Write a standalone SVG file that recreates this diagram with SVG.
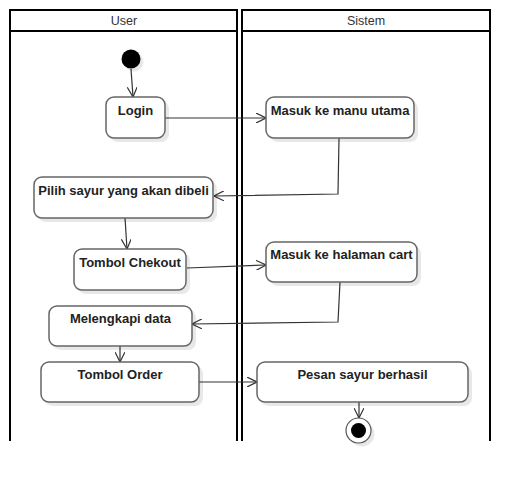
<svg xmlns="http://www.w3.org/2000/svg" width="530" height="483" viewBox="0 0 530 483">
<defs>
<style>
.lane{fill:none;stroke:#000;stroke-width:2}
.hdr{font-family:"Liberation Sans",Arial,sans-serif;font-size:12.5px;fill:#333;text-anchor:middle}
.box{fill:#fff;stroke:#666;stroke-width:1.5}
.sh{fill:#000;opacity:0.09}
.lbl{font-family:"Liberation Sans",Arial,sans-serif;font-size:13px;font-weight:bold;fill:#222;text-anchor:middle}
.con{fill:none;stroke:#333;stroke-width:1.2}
</style>
<marker id="arr" viewBox="0 0 10 10" refX="10" refY="5" markerWidth="10" markerHeight="10" markerUnits="userSpaceOnUse" orient="auto">
<path d="M0,0 L10,5 L0,10" fill="none" stroke="#333" stroke-width="1.2"/>
</marker>
</defs>
<rect width="530" height="483" fill="#fff"/>
<g id="lane-user">
<path class="lane" d="M10,441 V10 H237 V441 M10,31 H237"/>
<text class="hdr" x="124" y="25">User</text>
</g>
<g id="lane-sistem">
<path class="lane" d="M242,441 V10 H490 V441 M242,31 H490"/>
<text class="hdr" x="366" y="25">Sistem</text>
</g>
<g id="connectors">
<path class="con" marker-end="url(#arr)" d="M131,69 L133,97"/>
<path class="con" marker-end="url(#arr)" d="M165,118 H266"/>
<path class="con" marker-end="url(#arr)" d="M339,138 L338,194 L214,196"/>
<path class="con" marker-end="url(#arr)" d="M125,218 L127,249"/>
<path class="con" marker-end="url(#arr)" d="M187,268 L266,265"/>
<path class="con" marker-end="url(#arr)" d="M340,282 L338,322 L192,324"/>
<path class="con" marker-end="url(#arr)" d="M120,346 V362"/>
<path class="con" marker-end="url(#arr)" d="M199,382 H257"/>
<path class="con" marker-end="url(#arr)" d="M359,402 V418"/>
</g>
<g id="start">
<circle class="sh" cx="134" cy="62" r="9.5"/>
<circle cx="131" cy="59" r="9.5" fill="#000"/>
</g>
<g id="login">
<rect class="sh" x="110" y="101" width="59" height="41" rx="8"/>
<rect class="box" x="106" y="97" width="59" height="41" rx="8"/>
<text class="lbl" x="135.5" y="115">Login</text>
</g>
<g id="masuk-menu">
<rect class="sh" x="270" y="101" width="148" height="41" rx="8"/>
<rect class="box" x="266" y="97" width="148" height="41" rx="8"/>
<text class="lbl" x="340" y="115">Masuk ke manu utama</text>
</g>
<g id="pilih">
<rect class="sh" x="38" y="181" width="179" height="41" rx="8"/>
<rect class="box" x="34" y="177" width="179" height="41" rx="8"/>
<text class="lbl" x="123.5" y="195">Pilih sayur yang akan dibeli</text>
</g>
<g id="chekout">
<rect class="sh" x="78" y="253" width="112" height="41" rx="8"/>
<rect class="box" x="74" y="249" width="112" height="41" rx="8"/>
<text class="lbl" x="130" y="267">Tombol Chekout</text>
</g>
<g id="cart">
<rect class="sh" x="270" y="246" width="151" height="40" rx="8"/>
<rect class="box" x="266" y="242" width="151" height="40" rx="8"/>
<text class="lbl" x="341.5" y="259">Masuk ke halaman cart</text>
</g>
<g id="melengkapi">
<rect class="sh" x="53" y="310" width="143" height="40" rx="8"/>
<rect class="box" x="49" y="306" width="143" height="40" rx="8"/>
<text class="lbl" x="120.5" y="323">Melengkapi data</text>
</g>
<g id="order">
<rect class="sh" x="45" y="366" width="158" height="40" rx="8"/>
<rect class="box" x="41" y="362" width="158" height="40" rx="8"/>
<text class="lbl" x="120" y="379">Tombol Order</text>
</g>
<g id="pesan">
<rect class="sh" x="261" y="366" width="211" height="40" rx="8"/>
<rect class="box" x="257" y="362" width="211" height="40" rx="8"/>
<text class="lbl" x="362.5" y="379">Pesan sayur berhasil</text>
</g>
<g id="end">
<circle class="sh" cx="362" cy="434" r="12.5"/>
<circle cx="358.5" cy="430.5" r="12.5" fill="#fff" stroke="#555" stroke-width="1.2"/>
<circle cx="358.5" cy="430.5" r="7.5" fill="#000"/>
</g>
</svg>
